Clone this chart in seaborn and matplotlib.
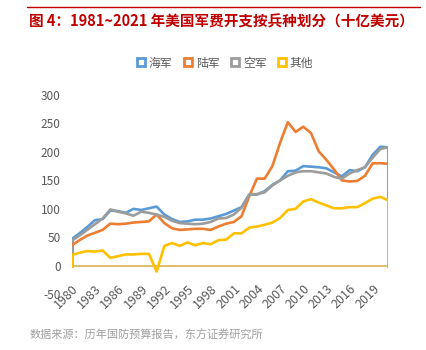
import matplotlib.pyplot as plt
import matplotlib.lines as mlines
import seaborn as sns
import pandas as pd

years = list(range(1980, 2022))
navy = [47, 57, 68, 80, 82, 97, 96, 93, 100, 98, 101, 104,
        90, 82, 77, 78, 81, 81, 83, 87, 91, 97,
        103, 125, 125, 131, 142, 150, 166, 167, 175, 174,
        173, 171, 164, 157, 168, 166, 173, 195, 209, 208]
army = [36, 45, 53, 58, 63, 74, 73, 74, 76, 77, 78, 90,
        75, 66, 63, 64, 65, 65, 63, 69, 74, 77,
        87, 122, 153, 153, 175, 216, 252, 235, 244, 233,
        201, 186, 169, 150, 148, 149, 158, 180, 180, 179]
airforce = [44, 53, 63, 73, 83, 99, 95, 92, 88, 95, 93, 90,
            86, 79, 75, 74, 73, 74, 77, 83, 84, 90,
            102, 125, 126, 129, 141, 150, 158, 164, 166, 166,
            164, 162, 156, 153, 162, 168, 173, 190, 205, 208]
other = [19, 23, 26, 25, 27, 14, 17, 20, 20, 21, 21, -10,
         35, 40, 35, 41, 36, 40, 38, 45, 46, 57,
         57, 67, 69, 72, 76, 84, 98, 100, 113, 117,
         111, 106, 101, 101, 103, 103, 110, 118, 121, 115]
series_names = ["海军", "陆军", "空军", "其他"]
colors = ["#5B9BD5", "#ED7D31", "#9C9C9C", "#FFC000"]
xticks = list(range(1980, 2020, 3))
yticks = [-50, 0, 50, 100, 150, 200, 250, 300]

sns.set_theme(style="white")
plt.rcParams['font.family'] = ['Noto Sans CJK SC', 'DejaVu Sans']

df = pd.DataFrame({"year": years, "海军": navy, "陆军": army, "空军": airforce, "其他": other})
long = df.melt(id_vars="year", var_name="兵种", value_name="value")

fig = plt.figure(figsize=(4.27, 3.5), dpi=100)
ax = fig.add_axes([0.168, 0.159, 0.741, 0.570])

# excel area chart with no fill -> outline goes down to 0 at both ends
x0, x1 = years[0], years[-1]
for name, c in zip(series_names, colors):
    ax.plot([x0, x0], [0, df[name].iloc[0]], color=c, lw=1.9, zorder=2)
    ax.plot([x1, x1], [0, df[name].iloc[-1]], color=c, lw=1.9, zorder=2)
sns.lineplot(data=long, x="year", y="value", hue="兵种", palette=colors, lw=1.9,
             ax=ax, legend=False, zorder=3)
ax.axhline(0, color="#D8B95C", lw=1.3, zorder=1)

ax.set_xlim(1980, 2021)
ax.set_ylim(-50, 300)
ax.set_xticks(xticks)
ax.set_xticklabels([str(y) for y in xticks], rotation=45, ha="right",
                   rotation_mode="anchor", fontsize=9, color="#595959")
ax.set_yticks(yticks)
ax.set_yticklabels([str(y) for y in yticks], fontsize=8.5, color="#595959")
ax.tick_params(axis="x", pad=-9, length=0)
ax.tick_params(axis="y", pad=8, length=0)
ax.set_xlabel("")
ax.set_ylabel("")
sns.despine(ax=ax, left=True, bottom=True)

handles = [mlines.Line2D([], [], marker="s", ls="none", markersize=6, markeredgewidth=2,
                         markerfacecolor="white", markeredgecolor=c) for c in colors]
fig.legend(handles, series_names, loc="center", bbox_to_anchor=(0.527, 0.82), ncol=4,
           frameon=False, fontsize=8.5, handletextpad=0.3, handlelength=0.7,
           columnspacing=1.0, labelcolor="#595959")

fig.add_artist(mlines.Line2D([0.063, 0.984], [0.98, 0.98], color="#C00000", lw=1))
fig.text(0.068, 0.94, "图 4：1981~2021 年美国军费开支按兵种划分（十亿美元）", color="#C00000",
         fontsize=10.5, fontweight="bold", va="center")
fig.text(0.07, 0.043, "数据来源：历年国防预算报告，东方证券研究所", color="#A0A0A0",
         fontsize=8, va="center")

fig.savefig("out.png", dpi=100)
